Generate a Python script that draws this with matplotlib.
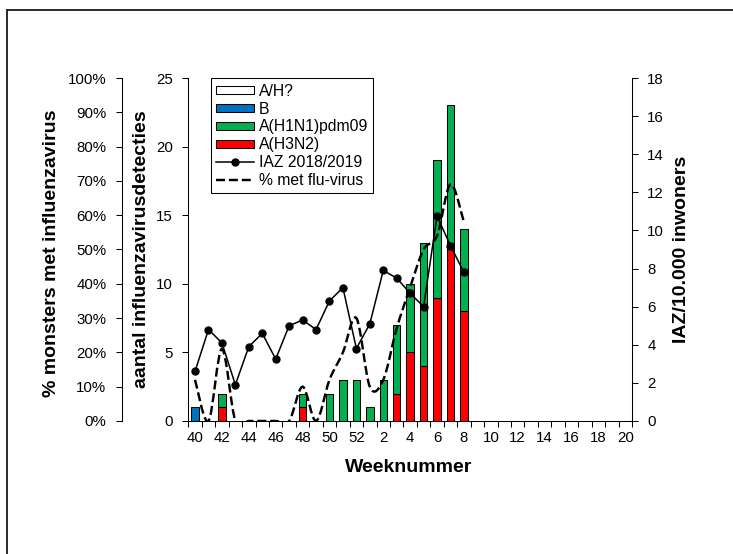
import numpy as np
import matplotlib
matplotlib.use("Agg")
import matplotlib.pyplot as plt
import matplotlib.patches as mpatches
from matplotlib.lines import Line2D
from matplotlib.path import Path

plt.rcParams["font.family"] = ["Liberation Sans", "DejaVu Sans"]

# weeks of the 2018/2019 season
weeks = list(range(40, 53)) + list(range(1, 21))

# influenza detections per week (stacked bars)
h3n2 = [0, 0, 1, 0, 0, 0, 0, 0, 1, 0, 0, 0, 0, 0, 0, 2, 5, 4, 9, 13, 8] + [0] * 12
h1n1 = [0, 0, 1, 0, 0, 0, 0, 0, 1, 0, 2, 3, 3, 1, 3, 5, 5, 9, 10, 10, 6] + [0] * 12
flu_b = [1] + [0] * 32
a_unknown = [0] * 33

# IAZ per 10.000 inhabitants (weeks 40 .. 8)
iaz = [2.6, 4.8, 4.1, 1.9, 3.9, 4.6, 3.25, 5.0, 5.3, 4.8, 6.3, 7.0, 3.8,
       5.1, 7.9, 7.5, 6.7, 6.0, 10.75, 9.2, 7.8]
# % of samples with influenza virus (weeks 40 .. 8)
pct_flu = [12, 0, 21, 0, 0, 0, 0, 0, 10, 0, 12, 20, 30,
           10, 12, 27, 39, 50, 54, 69, 58]

RED = "#FF0000"
GREEN = "#00B050"
BLUE = "#0070C0"
TICK_FS = 10.8
LABEL_FS = 14


def smooth_path(xs, ys):
    # Excel-like smoothed line: cubic bezier segments through the points
    pts = np.column_stack([xs, ys]).astype(float)
    n = len(pts)
    verts = [pts[0]]
    codes = [Path.MOVETO]
    for i in range(n - 1):
        p0 = pts[i - 1] if i > 0 else pts[i]
        p1 = pts[i]
        p2 = pts[i + 1]
        p3 = pts[i + 2] if i + 2 < n else pts[i + 1]
        c1 = p1 + (p2 - p0) / 6.0
        c2 = p2 - (p3 - p1) / 6.0
        verts += [c1, c2, p2]
        codes += [Path.CURVE4] * 3
    return Path(verts, codes)


fig = plt.figure(figsize=(7.33, 5.54), dpi=100)
ax = fig.add_axes([0.2569, 0.2401, 0.6053, 0.6191])

# outer chart-area border
fig.patches.append(mpatches.Rectangle((7 / 733, -0.1), 1.2, 1.1 - 10 / 554,
                                      transform=fig.transFigure, fill=False,
                                      edgecolor="#1a1a1a", linewidth=1.3))

x = np.arange(len(weeks))
bar_w = 0.55
bottom = np.zeros(len(weeks))
for vals, col in [(h3n2, RED), (h1n1, GREEN), (flu_b, BLUE), (a_unknown, "white")]:
    vals = np.array(vals, dtype=float)
    m = vals > 0
    if m.any():
        ax.bar(x[m], vals[m], bottom=bottom[m], width=bar_w, color=col,
               edgecolor="black", linewidth=0.75, zorder=2)
    bottom += vals

ax.set_xlim(-0.5, len(weeks) - 0.5)
ax.set_ylim(0, 25)
ax.set_yticks(range(0, 26, 5))
ax.set_xticks(x[::2])
ax.set_xticklabels([str(w) for w in weeks[::2]])
ax.set_xticks(np.arange(-0.5, len(weeks), 1.0), minor=True)
ax.tick_params(axis="x", which="major", length=0, pad=7, labelsize=TICK_FS)
ax.tick_params(axis="x", which="minor", length=4, width=0.75, direction="out")
ax.tick_params(axis="y", length=4, width=0.75, direction="out", pad=7, labelsize=TICK_FS)
for s in ["top", "right"]:
    ax.spines[s].set_visible(False)
for s in ["left", "bottom"]:
    ax.spines[s].set_linewidth(0.75)
ax.set_xlabel("Weeknummer", fontsize=LABEL_FS, fontweight="bold")
ax.xaxis.set_label_coords(0.497, -0.11)
ax.set_ylabel("aantal influenzavirusdetecties", fontsize=LABEL_FS, fontweight="bold")
ax.yaxis.set_label_coords(-0.086, 0.5)

# right axis: IAZ
ax_iaz = ax.twinx()
ax_iaz.plot(x[:len(iaz)], iaz, color="black", linewidth=1.1, marker="o",
            markersize=5, zorder=3)
ax_iaz.set_ylim(0, 18)
ax_iaz.set_yticks(range(0, 19, 2))
ax_iaz.tick_params(axis="y", length=4, width=0.75, direction="out", pad=7, labelsize=TICK_FS)
for s in ["top", "left", "bottom"]:
    ax_iaz.spines[s].set_visible(False)
ax_iaz.spines["right"].set_linewidth(0.75)
ax_iaz.set_ylabel("IAZ/10.000 inwoners", fontsize=LABEL_FS, fontweight="bold")
ax_iaz.yaxis.set_label_coords(1.092, 0.5)

# outer left axis: % positive samples
ax_pct = ax.twinx()
ax_pct.spines["left"].set_position(("axes", -0.150))
ax_pct.yaxis.set_label_position("left")
ax_pct.yaxis.tick_left()
for s in ["top", "right", "bottom"]:
    ax_pct.spines[s].set_visible(False)
ax_pct.spines["left"].set_linewidth(0.75)
ax_pct.set_ylim(0, 100)
ax_pct.set_yticks(range(0, 101, 10))
ax_pct.set_yticklabels([f"{v}%" for v in range(0, 101, 10)])
ax_pct.tick_params(axis="y", length=4, width=0.75, direction="out", pad=7, labelsize=TICK_FS)
ax_pct.set_ylabel("% monsters met influenzavirus", fontsize=LABEL_FS, fontweight="bold")
ax_pct.yaxis.set_label_coords(-0.289, 0.49)

dash = mpatches.PathPatch(smooth_path(x[:len(pct_flu)], pct_flu), fill=False,
                          edgecolor="black", linewidth=1.75, linestyle="--", zorder=3)
ax_pct.add_patch(dash)

handles = [
    mpatches.Patch(facecolor="white", edgecolor="black", linewidth=0.75),
    mpatches.Patch(facecolor=BLUE, edgecolor="black", linewidth=0.75),
    mpatches.Patch(facecolor=GREEN, edgecolor="black", linewidth=0.75),
    mpatches.Patch(facecolor=RED, edgecolor="black", linewidth=0.75),
    Line2D([], [], color="black", linewidth=1.1, marker="o", markersize=5),
    Line2D([], [], color="black", linewidth=1.75, linestyle="--"),
]
labels = ["A/H?", "B", "A(H1N1)pdm09", "A(H3N2)", "IAZ 2018/2019", "% met flu-virus"]
leg = ax_pct.legend(handles, labels, loc="upper left",
                    bbox_to_anchor=(210.7 / 733, 1 - 78.3 / 554),
                    bbox_transform=fig.transFigure, fontsize=11.3,
                    frameon=True, fancybox=False, edgecolor="black", framealpha=1,
                    borderpad=0.35, labelspacing=0.18, handlelength=2.4,
                    handleheight=0.42, handletextpad=0.3, borderaxespad=0)
leg.get_frame().set_linewidth(0.75)
leg.set_zorder(10)

fig.savefig("out.png", dpi=100)
